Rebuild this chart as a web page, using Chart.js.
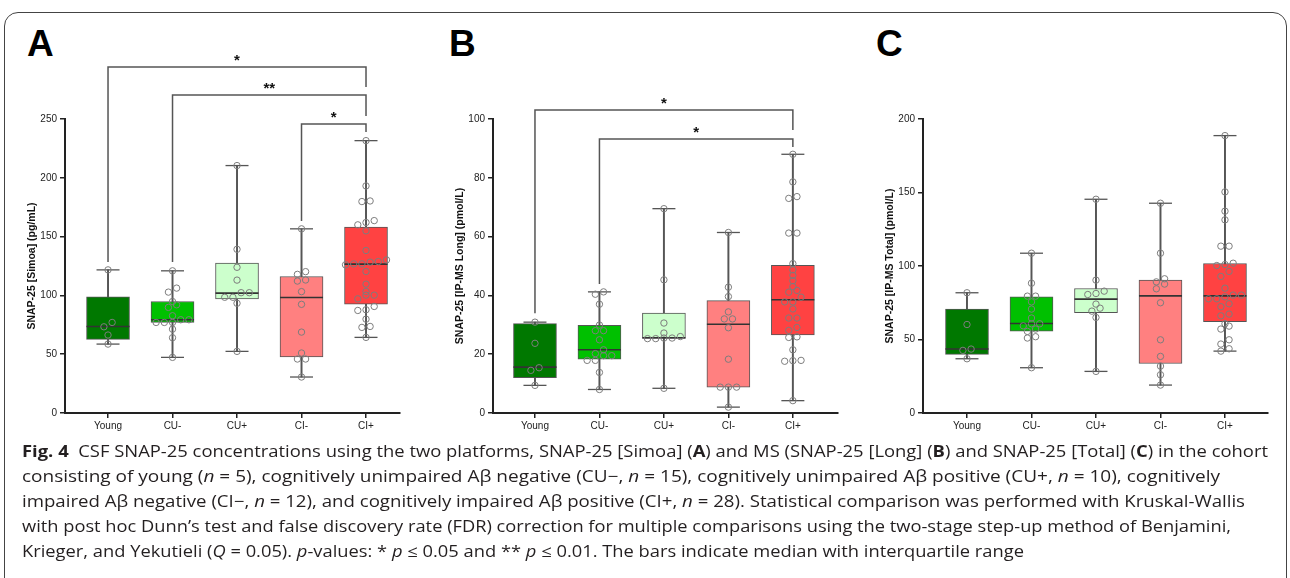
<!DOCTYPE html>
<html>
<head>
<meta charset="utf-8">
<script src="https://cdn.jsdelivr.net/npm/chart.js@4.4.1/dist/chart.umd.min.js"></script>
<style>
  body { margin: 0; background: #fff; width: 1290px; height: 578px; overflow: hidden; position: relative; font-family: "Open Sans", sans-serif; }
  .frame { position: absolute; left: 4px; top: 12px; width: 1283px; height: 640px; border: 1px solid #444; border-radius: 14px; box-sizing: border-box; }
  .panel { position: absolute; top: 40px; }
  .letter { position: absolute; top: 25px; font: bold 37px "Liberation Sans", Arial, sans-serif; line-height: 1; color: #000; }
  .cap { position: absolute; left: 22px; white-space: nowrap; font-size: 16px; line-height: 25px; color: #231f20; transform-origin: 0 0; }
</style>
</head>
<body>
<div class="frame"></div>
<div class="letter" style="left:27px">A</div>
<div class="letter" style="left:449px">B</div>
<div class="letter" style="left:876px">C</div>
<canvas id="chartA" class="panel" style="left:12px" width="398" height="400"></canvas>
<canvas id="chartB" class="panel" style="left:440px" width="410" height="400"></canvas>
<canvas id="chartC" class="panel" style="left:870px" width="410" height="400"></canvas>

<div class="cap" data-end="1268" style="top:439px"><b>Fig. 4</b>&nbsp; CSF SNAP-25 concentrations using the two platforms, SNAP-25 [Simoa] (<b>A</b>) and MS (SNAP-25 [Long] (<b>B</b>) and SNAP-25 [Total] (<b>C</b>) in the cohort</div>
<div class="cap" data-end="1220" style="top:464px">consisting of young (<i>n</i> = 5), cognitively unimpaired Aβ negative (CU−, <i>n</i> = 15), cognitively unimpaired Aβ positive (CU+, <i>n</i> = 10), cognitively</div>
<div class="cap" data-end="1245" style="top:489px">impaired Aβ negative (CI−, <i>n</i> = 12), and cognitively impaired Aβ positive (CI+, <i>n</i> = 28). Statistical comparison was performed with Kruskal-Wallis</div>
<div class="cap" data-end="1231" style="top:514px">with post hoc Dunn’s test and false discovery rate (FDR) correction for multiple comparisons using the two-stage step-up method of Benjamini,</div>
<div class="cap" data-end="1024" style="top:539px">Krieger, and Yekutieli (<i>Q</i> = 0.05). <i>p</i>-values: * <i>p</i> ≤ 0.05 and ** <i>p</i> ≤ 0.01. The bars indicate median with interquartile range</div>

<script>
const groups = ['Young', 'CU-', 'CU+', 'CI-', 'CI+']
const groupColors = ['#007800', '#00c000', '#ccffcc', '#ff8080', '#ff4242']

// A: SNAP-25 [Simoa] (pg/mL)
const simoaPoints = [
  [121.7, 77, 73.3, 66.3, 58.6],
  [120.9, 106.2, 102.8, 94.8, 92, 89.8, 82.7, 79.3, 79.3, 77, 77, 77, 71.3, 64, 47.3],
  [210.4, 139.2, 123.9, 113, 102.3, 102.3, 98.4, 98.4, 93.3, 52.4],
  [156.6, 120.2, 117.9, 113.1, 112.2, 103.2, 92.4, 68.8, 51, 45.9, 45.9, 30.6],
  [231.6, 193.1, 180.3, 179.8, 163.6, 162, 160, 154.9, 138.2, 130.2, 128.8, 128.3, 126.8, 126.8,
   126, 120.3, 109.6, 103.3, 100.2, 100.2, 97.1, 90.6, 87.8, 87.2, 79.8, 73.6, 72.8, 64.3]
]
const simoaQ1 = [62.6, 77, 97.1, 47.6, 92.6]
const simoaMedian = [73.6, 79.3, 101.9, 98.2, 126.6]
const simoaQ3 = [98.8, 94.8, 127.4, 116.1, 158]
const simoaTicks = [0, 50, 100, 150, 200, 250]

// B: SNAP-25 [IP-MS Long] (pmol/L)
const longPoints = [
  [30.9, 23.7, 15.4, 14.5, 9.4],
  [41.2, 40.4, 37, 29.9, 28, 28, 24.9, 21.5, 20.2, 19.5, 19.5, 17.9, 17.9, 13.8, 8],
  [69.5, 45.3, 30.6, 27.2, 26, 25.5, 25.5, 25.3, 25.3, 8.4],
  [61.4, 42.8, 39.6, 34.4, 32, 32, 29, 18.3, 8.8, 8.8, 8.8, 2],
  [88, 78.6, 73.6, 73, 61.2, 61.2, 50.8, 48.7, 46.8, 45, 43, 41.7, 41.1, 39.4,
   37.8, 37.8, 35.4, 32.3, 32.3, 29.1, 28.1, 25.9, 25.7, 21.5, 17.9, 17.8, 17.6, 4.2]
]
const longQ1 = [12, 18.3, 25.4, 8.8, 26.6]
const longMedian = [15.6, 21.5, 25.6, 30.2, 38.5]
const longQ3 = [30.4, 29.8, 34, 38.2, 50.2]
const longTicks = [0, 20, 40, 60, 80, 100]

// C: SNAP-25 [IP-MS Total] (pmol/L)
const totalPoints = [
  [81.8, 60.2, 43.5, 42.6, 36.9],
  [108.7, 88.3, 79.5, 79.5, 75.6, 70.7, 64.6, 60.7, 60.7, 59.3, 57.1, 55.5, 51.9, 51, 30.8],
  [145.4, 90.4, 82.9, 81.3, 80.6, 74.1, 71.3, 69.3, 65, 28.3],
  [142.7, 108.7, 91.3, 89.2, 87.7, 84.5, 75, 49.8, 38.5, 31.9, 26, 19],
  [188.7, 150.4, 137.3, 131.4, 113.5, 113.5, 101.9, 101, 100.3, 96.3, 92.9, 84.9, 80.2, 80.2,
   79, 77.7, 77.7, 74.3, 72.3, 67.3, 66.1, 60.7, 59.1, 57.1, 49.8, 46.9, 43.7, 42.1]
]
const totalQ1 = [39.9, 55.7, 68.2, 33.7, 62.1]
const totalMedian = [43.5, 60.9, 77.5, 79.7, 79.7]
const totalQ3 = [70.7, 79, 84.7, 90.4, 101.7]
const totalTicks = [0, 50, 100, 150, 200]

// significance brackets: [from, to, bar height, left leg end, right leg end, label]
const simoaSig = [
  [0, 4, 294.2, 128.4, 277.2, '*'],
  [1, 4, 270.4, 128.4, 252.6, '**'],
  [3, 4, 245.7, 163.3, 239, '*']
]
const longSig = [
  [0, 4, 103.1, 33.9, 96.3, '*'],
  [1, 4, 93.2, 43.9, 90.5, '*']
]

const PLOT_H = 294
const X_UNIT = 64.5

// Prism-like scatter layout: close values share a row, spread around the centre
function swarm(values, index, unitPx) {
  const sorted = values.slice().sort((a, b) => a - b)
  const rows = []
  for (const v of sorted) {
    const row = rows[rows.length - 1]
    if (row && (v - row[0]) * unitPx < 5) row.push(v)
    else rows.push([v])
  }
  const out = []
  for (const row of rows) {
    row.forEach((v, k) => {
      out.push({ x: index + (k - (row.length - 1) / 2) * 8.2 / X_UNIT, y: v })
    })
  }
  return out
}

const sigBrackets = {
  id: 'sigBrackets',
  afterDatasetsDraw(chart, args, opts) {
    const items = opts.items || []
    const { ctx } = chart
    const xs = chart.scales.x
    const ys = chart.scales.y
    ctx.save()
    ctx.strokeStyle = '#555'
    ctx.lineWidth = 1.5
    ctx.fillStyle = '#111'
    ctx.font = 'bold 15px "Liberation Sans", Arial, sans-serif'
    ctx.textAlign = 'center'
    ctx.textBaseline = 'alphabetic'
    for (const [from, to, h, l, r, label] of items) {
      const x1 = xs.getPixelForValue(from)
      const x2 = xs.getPixelForValue(to)
      const y = ys.getPixelForValue(h)
      ctx.beginPath()
      ctx.moveTo(x1, ys.getPixelForValue(l))
      ctx.lineTo(x1, y)
      ctx.lineTo(x2, y)
      ctx.lineTo(x2, ys.getPixelForValue(r))
      ctx.stroke()
      ctx.fillText(label, (x1 + x2) / 2, y - 2)
    }
    ctx.restore()
  }
}

function makeChart(id, p) {
  const unitPx = PLOT_H / p.yMax
  const mins = p.points.map(a => Math.min(...a))
  const maxs = p.points.map(a => Math.max(...a))
  const dots = []
  p.points.forEach((vals, i) => dots.push(...swarm(vals, i, unitPx)))
  const caps = []
  groups.forEach((g, i) => { caps.push({ x: i, y: mins[i] }, { x: i, y: maxs[i] }) })

  return new Chart(document.getElementById(id), {
    type: 'scatter',
    data: {
      datasets: [
        {
          type: 'scatter', data: dots, order: 1,
          pointStyle: 'circle', pointRadius: 3.2, borderWidth: 1,
          borderColor: '#7d7d7d', backgroundColor: 'rgba(0,0,0,0)'
        },
        {
          type: 'scatter', order: 2,
          data: groups.map((g, i) => ({ x: i, y: p.median[i] })),
          pointStyle: 'line', pointRadius: 21.5, borderWidth: 1.6, borderColor: '#333'
        },
        {
          type: 'scatter', data: caps, order: 2,
          pointStyle: 'line', pointRadius: 11.5, borderWidth: 1.3, borderColor: '#555'
        },
        {
          type: 'bar', order: 3, grouped: false, barThickness: 43,
          data: groups.map((g, i) => ({ x: i, y: [p.q1[i], p.q3[i]] })),
          backgroundColor: groupColors, borderColor: '#555', borderWidth: 1, borderSkipped: false
        },
        {
          type: 'bar', order: 4, grouped: false, barThickness: 1.3,
          data: groups.map((g, i) => ({ x: i, y: [mins[i], maxs[i]] })),
          backgroundColor: '#555', borderWidth: 0
        }
      ]
    },
    options: {
      responsive: false,
      animation: false,
      events: [],
      layout: { autoPadding: false, padding: { top: 79, right: p.padRight, left: 0, bottom: 0 } },
      plugins: {
        legend: { display: false },
        tooltip: { enabled: false },
        sigBrackets: { items: p.sig }
      },
      scales: {
        x: {
          type: 'linear', min: p.xMin, max: p.xMax, offset: false,
          afterBuildTicks: axis => { axis.ticks = groups.map((g, i) => ({ value: i })) },
          afterFit: axis => { axis.height = 27; axis.paddingLeft = 0; axis.paddingRight = 0 },
          ticks: {
            callback: v => groups[v], autoSkip: false, maxRotation: 0, padding: 2,
            color: '#222', font: { family: '"Liberation Sans", Arial', size: 10 }
          },
          grid: { drawOnChartArea: false, drawTicks: true, tickLength: 5, color: '#222', lineWidth: 1.5, offset: false },
          border: { color: '#222', width: 2 }
        },
        y: {
          type: 'linear', min: 0, max: p.yMax,
          afterBuildTicks: axis => { axis.ticks = p.ticks.map(v => ({ value: v })) },
          afterFit: axis => { axis.width = 53; axis.paddingTop = 0; axis.paddingBottom = 0 },
          ticks: { padding: 3, color: '#222', font: { family: '"Liberation Sans", Arial', size: 10 } },
          grid: { drawOnChartArea: false, drawTicks: true, tickLength: 5, color: '#222', lineWidth: 1.5 },
          border: { color: '#222', width: 2 },
          title: {
            display: true, text: p.title, color: '#111', padding: { top: 14, bottom: 0 },
            font: { family: '"Liberation Sans", Arial', size: 10.5, weight: 'bold' }
          }
        }
      }
    },
    plugins: [sigBrackets]
  })
}

makeChart('chartA', {
  points: simoaPoints, q1: simoaQ1, median: simoaMedian, q3: simoaQ3, ticks: simoaTicks,
  yMax: 250, xMin: -0.667, xMax: 4.527, padRight: 10, sig: simoaSig,
  title: 'SNAP-25 [Simoa] (pg/mL)'
})
makeChart('chartB', {
  points: longPoints, q1: longQ1, median: longMedian, q3: longQ3, ticks: longTicks,
  yMax: 100, xMin: -0.651, xMax: 4.70, padRight: 12, sig: longSig,
  title: 'SNAP-25 [IP-MS Long] (pmol/L)'
})
makeChart('chartC', {
  points: totalPoints, q1: totalQ1, median: totalMedian, q3: totalQ3, ticks: totalTicks,
  yMax: 200, xMin: -0.682, xMax: 4.667, padRight: 12, sig: [],
  title: 'SNAP-25 [IP-MS Total] (pmol/L)'
})

// stretch each caption line to the width it has in the figure
document.querySelectorAll('.cap').forEach(el => {
  const target = Number(el.dataset.end) - 22
  const w = el.getBoundingClientRect().width
  el.style.transform = 'scaleX(' + (target / w) + ')'
})
</script>
</body>
</html>
